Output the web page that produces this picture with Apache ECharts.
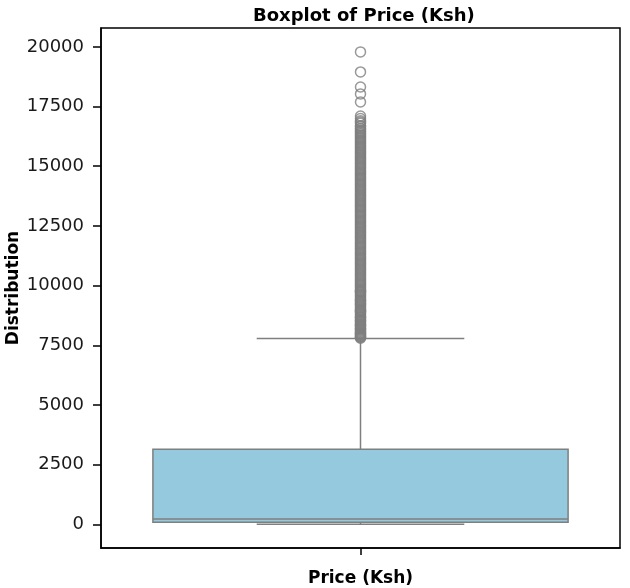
<!DOCTYPE html>
<html>
<head>
<meta charset="utf-8">
<title>Boxplot of Price (Ksh)</title>
<script src="https://cdn.jsdelivr.net/npm/echarts@6/dist/echarts.min.js"></script>
<style>
  html, body { margin: 0; padding: 0; background: #fff; }
  #chart { width: 630px; height: 588px; }
</style>
</head>
<body>
<div id="chart"></div>
<script>
// box statistics: [min, Q1, median, Q3, upper whisker]
var categories = ["Price (Ksh)"];
var boxStats = [0, 84, 223, 3151, 7786];
var outliers = [
  7800, 7830, 7850, 7880, 7900, 7930, 7960, 7990, 8000, 8040, 8080, 8110,
  8150, 8180, 8200, 8240, 8290, 8320, 8350, 8370, 8400, 8450, 8500, 8530,
  8560, 8600, 8650, 8680, 8700, 8750, 8800, 8850, 8900, 8920, 8950, 8980,
  9000, 9050, 9100, 9150, 9200, 9230, 9250, 9300, 9350, 9380, 9400, 9450,
  9500, 9550, 9600, 9650, 9700, 9730, 9750, 9780, 9800, 9850, 9900, 9950,
  10000, 10050, 10100, 10150, 10200, 10250, 10300, 10350, 10400, 10450,
  10500, 10550, 10600, 10650, 10700, 10750, 10800, 10850, 10900, 10950,
  11000, 11050, 11100, 11150, 11200, 11250, 11300, 11350, 11400, 11450,
  11500, 11550, 11600, 11650, 11700, 11750, 11800, 11850, 11900, 11950,
  12000, 12050, 12100, 12150, 12200, 12250, 12300, 12350, 12400, 12450,
  12500, 12550, 12600, 12650, 12700, 12750, 12800, 12850, 12900, 12950,
  13000, 13050, 13100, 13150, 13200, 13250, 13300, 13350, 13400, 13450,
  13500, 13550, 13600, 13650, 13700, 13750, 13800, 13850, 13900, 13950,
  14000, 14050, 14100, 14150, 14200, 14250, 14300, 14350, 14400, 14450,
  14500, 14550, 14600, 14650, 14700, 14750, 14800, 14850, 14900, 14950,
  15000, 15050, 15100, 15150, 15200, 15250, 15300, 15350, 15400, 15450,
  15500, 15550, 15600, 15650, 15700, 15750, 15800, 15850, 15900, 15950,
  16000, 16050, 16100, 16150, 16200, 16250, 16300, 16350, 16400, 16450,
  16500, 16560, 16600, 16680, 16700, 16800, 16850, 16900, 17000, 17100,
  17690, 18030, 18320, 18950, 19790
];
var yTicks = [0, 2500, 5000, 7500, 10000, 12500, 15000, 17500, 20000];

var lineGray = "#7f7f7f";
var boxFill = "#95c9dd";

var chart = echarts.init(document.getElementById("chart"));

function renderBox(params, api) {
  var band = api.size([1, 0])[0];
  var half = band * 0.4;
  var capHalf = band * 0.2;
  var cx = api.coord([0, 0])[0];
  var yMin = api.coord([0, api.value(1)])[1];
  var yQ1 = api.coord([0, api.value(2)])[1];
  var yMed = api.coord([0, api.value(3)])[1];
  var yQ3 = api.coord([0, api.value(4)])[1];
  var yMax = api.coord([0, api.value(5)])[1];
  var ls = { stroke: lineGray, lineWidth: 1.5 };
  return {
    type: "group",
    children: [
      { type: "line", shape: { x1: cx, y1: yQ3, x2: cx, y2: yMax }, style: ls },
      { type: "line", shape: { x1: cx, y1: yQ1, x2: cx, y2: yMin }, style: ls },
      { type: "line", shape: { x1: cx - capHalf, y1: yMax, x2: cx + capHalf, y2: yMax }, style: ls },
      { type: "line", shape: { x1: cx - capHalf, y1: yMin, x2: cx + capHalf, y2: yMin }, style: ls },
      {
        type: "rect",
        shape: { x: cx - half, y: yQ3, width: half * 2, height: yQ1 - yQ3 },
        style: { fill: boxFill, stroke: lineGray, lineWidth: 1.5 }
      },
      { type: "line", shape: { x1: cx - half, y1: yMed, x2: cx + half, y2: yMed }, style: ls }
    ]
  };
}

var option = {
  animation: false,
  title: {
    text: "Boxplot of Price (Ksh)",
    left: 248,
    top: 2,
    textStyle: { fontFamily: "DejaVu Sans", fontSize: 18, fontWeight: "bold", color: "#000" }
  },
  grid: {
    left: 101, right: 10, top: 28, bottom: 40,
    outerBoundsMode: "none",
    containLabel: false,
    show: true, borderColor: "#000", borderWidth: 1.5
  },
  xAxis: {
    type: "category",
    data: categories,
    name: "Price (Ksh)",
    nameLocation: "middle",
    nameGap: 22,
    nameTextStyle: { fontFamily: "DejaVu Sans", fontSize: 17, fontWeight: "bold", color: "#000" },
    axisLine: { onZero: false, lineStyle: { color: "#000", width: 1.5 } },
    axisTick: { show: true, alignWithLabel: true, length: 7, lineStyle: { color: "#000", width: 1.5 } },
    axisLabel: { show: false },
    splitLine: { show: false }
  },
  yAxis: {
    type: "value",
    min: -990,
    max: 20790,
    name: "Distribution",
    nameLocation: "middle",
    nameGap: 79,
    nameMoveOverlap: false,
    nameTextStyle: { fontFamily: "DejaVu Sans", fontSize: 17, fontWeight: "bold", color: "#000" },
    axisLine: { show: true, lineStyle: { color: "#000", width: 1.5 } },
    axisTick: { show: true, length: 8, customValues: yTicks, lineStyle: { color: "#000", width: 1.5 } },
    axisLabel: {
      customValues: yTicks,
      margin: 17,
      fontFamily: "DejaVu Sans",
      fontSize: 18,
      color: "#1a1a1a",
      formatter: function (v) { return String(v); }
    },
    splitLine: { show: false }
  },
  series: [
    {
      type: "custom",
      renderItem: renderBox,
      encode: { x: 0, y: [1, 2, 3, 4, 5] },
      data: [[0].concat(boxStats)],
      z: 2
    },
    {
      type: "scatter",
      symbol: "circle",
      symbolSize: 10,
      itemStyle: { color: "rgba(255,255,255,0)", borderColor: lineGray, borderWidth: 1.5 },
      data: outliers.map(function (v) { return [0, v]; }),
      z: 3
    }
  ]
};

chart.setOption(option);
</script>
</body>
</html>
